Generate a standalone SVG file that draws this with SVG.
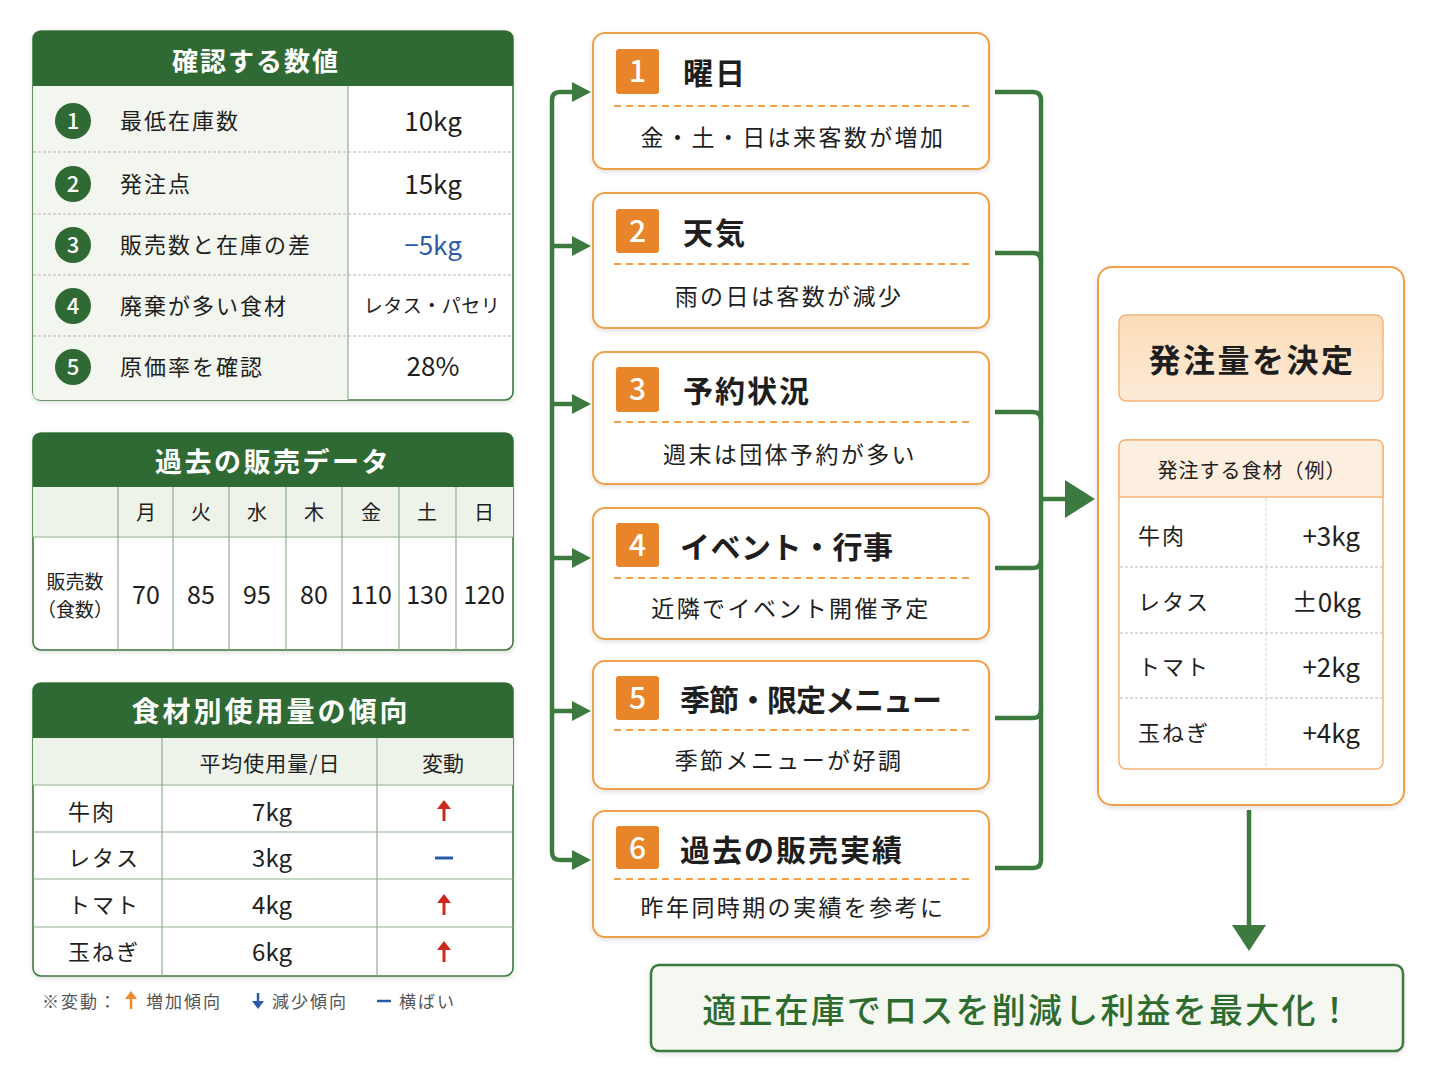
<svg xmlns="http://www.w3.org/2000/svg" width="1448" height="1086" viewBox="0 0 1448 1086">
<defs>
<style>
text{font-family:"Noto Sans CJK JP","Noto Sans",sans-serif;fill:#1e1e1e}
.hdr{fill:#ffffff;font-weight:700;text-anchor:middle}
.tbl{fill:#ffffff;stroke:#3d7a3f;stroke-width:1.6}
.hfill{fill:#2f6a34}
.dash{stroke:#b5b5b5;stroke-width:1;stroke-dasharray:3 2;fill:none}
.grid{stroke:#8fb08e;stroke-width:1.2;fill:none}
.lab{font-size:22px;letter-spacing:2px}
.val{font-size:26px;text-anchor:middle}
.box{fill:#ffffff;stroke:#f0a048;stroke-width:2}
.badge{fill:#e8852a}
.bnum{fill:#ffffff;font-size:30px;text-anchor:middle;font-weight:500}
.ttl{font-size:30px;font-weight:700;letter-spacing:2px}
.sub{font-size:23px;letter-spacing:2.4px;text-anchor:middle}
.odash{stroke:#f3a04c;stroke-width:2;stroke-dasharray:7 5;fill:none}
.conn{stroke:#3d7a3f;stroke-width:4.5;fill:none}
.head{fill:#3d7a3f}
.mid{text-anchor:middle}
.leg{font-size:17px;fill:#555;letter-spacing:2px}
</style>
<linearGradient id="og" x1="0" y1="0" x2="0" y2="1"><stop offset="0" stop-color="#fcdcb8"/><stop offset="1" stop-color="#fdebd7"/></linearGradient>
<linearGradient id="bg" x1="0" y1="0" x2="0" y2="1"><stop offset="0" stop-color="#f0953c"/><stop offset="1" stop-color="#e27f24"/></linearGradient>
<filter id="sh" x="-5%" y="-5%" width="110%" height="115%"><feDropShadow dx="0" dy="2" stdDeviation="2.5" flood-color="#000" flood-opacity="0.12"/></filter>
</defs>
<rect width="1448" height="1086" fill="#ffffff"/>

<!-- Table 1 -->
<g id="table-check">
<rect class="tbl" x="33" y="31" width="480" height="369" rx="8" filter="url(#sh)"/>
<path class="hfill" d="M33,39 Q33,31 41,31 H505 Q513,31 513,39 V86 H33 Z"/>
<path d="M33,86 H348 V400 H41 Q33,400 33,392 Z" fill="#f3f6ef"/>
<text class="hdr" x="256" y="71" font-size="26" letter-spacing="2">確認する数値</text>
<line class="grid" x1="348" y1="86" x2="348" y2="400"/>
<line class="dash" x1="33" y1="152" x2="513" y2="152"/>
<line class="dash" x1="33" y1="214" x2="513" y2="214"/>
<line class="dash" x1="33" y1="275" x2="513" y2="275"/>
<line class="dash" x1="33" y1="336" x2="513" y2="336"/>
<g fill="#2f6a34">
<circle cx="73" cy="121" r="18"/><circle cx="73" cy="184" r="18"/><circle cx="73" cy="245" r="18"/><circle cx="73" cy="306" r="18"/><circle cx="73" cy="367" r="18"/>
</g>
<g font-size="22" font-weight="500">
<text class="mid" x="73" y="129" style="fill:#fff">1</text>
<text class="mid" x="73" y="192" style="fill:#fff">2</text>
<text class="mid" x="73" y="253" style="fill:#fff">3</text>
<text class="mid" x="73" y="314" style="fill:#fff">4</text>
<text class="mid" x="73" y="375" style="fill:#fff">5</text>
</g>
<text class="lab" x="120" y="129">最低在庫数</text>
<text class="lab" x="120" y="192">発注点</text>
<text class="lab" x="120" y="253">販売数と在庫の差</text>
<text class="lab" x="120" y="314">廃棄が多い食材</text>
<text class="lab" x="120" y="375">原価率を確認</text>
<text class="val" x="433" y="131">10kg</text>
<text class="val" x="433" y="194">15kg</text>
<text class="val" x="433" y="255" style="fill:#2b5aa8">−5kg</text>
<text x="432" y="313" font-size="19" text-anchor="middle" letter-spacing="0.5">レタス・パセリ</text>
<text class="val" x="433" y="376">28%</text>
</g>

<!-- Table 2 -->
<g id="table-sales">
<rect class="tbl" x="33" y="433" width="480" height="217" rx="8" filter="url(#sh)"/>
<path class="hfill" d="M33,441 Q33,433 41,433 H505 Q513,433 513,441 V487 H33 Z"/>
<rect x="33" y="487" width="480" height="50" fill="#eef3ea"/>
<text class="hdr" x="273" y="472" font-size="27" letter-spacing="2.5">過去の販売データ</text>
<line class="grid" x1="33" y1="537" x2="513" y2="537"/>
<g class="grid">
<line x1="118" y1="487" x2="118" y2="650"/><line x1="173" y1="487" x2="173" y2="650"/><line x1="229" y1="487" x2="229" y2="650"/><line x1="286" y1="487" x2="286" y2="650"/><line x1="342" y1="487" x2="342" y2="650"/><line x1="399" y1="487" x2="399" y2="650"/><line x1="456" y1="487" x2="456" y2="650"/>
</g>
<g font-size="20" text-anchor="middle">
<text x="146" y="520">月</text><text x="201" y="520">火</text><text x="257" y="520">水</text><text x="314" y="520">木</text><text x="371" y="520">金</text><text x="427" y="520">土</text><text x="484" y="520">日</text>
</g>
<text x="75" y="589" font-size="19" text-anchor="middle">販売数</text>
<text x="75" y="617" font-size="19" text-anchor="middle">（食数）</text>
<g font-size="25" text-anchor="middle">
<text x="146" y="604">70</text><text x="201" y="604">85</text><text x="257" y="604">95</text><text x="314" y="604">80</text><text x="371" y="604">110</text><text x="427" y="604">130</text><text x="484" y="604">120</text>
</g>
</g>

<!-- Table 3 -->
<g id="table-usage">
<rect class="tbl" x="33" y="683" width="480" height="293" rx="8" filter="url(#sh)"/>
<path class="hfill" d="M33,691 Q33,683 41,683 H505 Q513,683 513,691 V738 H33 Z"/>
<rect x="33" y="738" width="480" height="47" fill="#eef3ea"/>
<text class="hdr" x="271" y="722" font-size="28" letter-spacing="3">食材別使用量の傾向</text>
<g class="grid">
<line x1="33" y1="785" x2="513" y2="785"/><line x1="33" y1="832" x2="513" y2="832"/><line x1="33" y1="879" x2="513" y2="879"/><line x1="33" y1="927" x2="513" y2="927"/>
<line x1="162" y1="738" x2="162" y2="976"/><line x1="377" y1="738" x2="377" y2="976"/>
</g>
<text x="270" y="771" font-size="21" text-anchor="middle" letter-spacing="1">平均使用量/日</text>
<text x="443" y="771" font-size="21" text-anchor="middle">変動</text>
<g font-size="22" letter-spacing="2">
<text x="68" y="820">牛肉</text><text x="68" y="866">レタス</text><text x="68" y="913">トマト</text><text x="68" y="960">玉ねぎ</text>
</g>
<g font-size="24" text-anchor="middle">
<text x="272" y="821">7kg</text><text x="272" y="867">3kg</text><text x="272" y="914">4kg</text><text x="272" y="961">6kg</text>
</g>
<g stroke="#cc2a1e" stroke-width="3" fill="none">
<line x1="444" y1="821" x2="444" y2="807"/><line x1="444" y1="915" x2="444" y2="901"/><line x1="444" y1="962" x2="444" y2="948"/>
</g>
<g fill="#cc2a1e">
<polygon points="437,809 444,800 451,809"/><polygon points="437,903 444,894 451,903"/><polygon points="437,950 444,941 451,950"/>
</g>
<line x1="435" y1="858" x2="453" y2="858" stroke="#2b5aa8" stroke-width="3"/>
</g>

<!-- Legend -->
<g id="legend">
<text class="leg" x="42" y="1008">※変動：</text>
<line x1="131" y1="1009" x2="131" y2="997" stroke="#ef8a2a" stroke-width="2.5"/>
<polygon points="125,999 131,991 137,999" fill="#ef8a2a"/>
<text class="leg" x="146" y="1008">増加傾向</text>
<line x1="258" y1="993" x2="258" y2="1003" stroke="#2b5aa8" stroke-width="2.5"/>
<polygon points="252,1001 258,1009 264,1001" fill="#2b5aa8"/>
<text class="leg" x="272" y="1008">減少傾向</text>
<line x1="377" y1="1001" x2="391" y2="1001" stroke="#2b5aa8" stroke-width="2.5"/>
<text class="leg" x="399" y="1008">横ばい</text>
</g>

<!-- Connectors -->
<g id="connectors">
<path class="conn" d="M578,92 H560 Q552,92 552,100 V852 Q552,860 560,860 H578"/>
<path class="conn" d="M552,246 H578 M552,404 H578 M552,558 H578 M552,711 H578"/>
<g class="head">
<polygon points="572,82 591,92 572,102"/>
<polygon points="572,236 591,246 572,256"/>
<polygon points="572,394 591,404 572,414"/>
<polygon points="572,548 591,558 572,568"/>
<polygon points="572,701 591,711 572,721"/>
<polygon points="572,850 591,860 572,870"/>
</g>
<path class="conn" d="M995,92 H1033 Q1041,92 1041,100 V860 Q1041,868 1033,868 H995"/>
<path class="conn" d="M995,253 H1033 Q1041,253 1041,261"/>
<path class="conn" d="M995,412 H1033 Q1041,412 1041,420"/>
<path class="conn" d="M995,568 H1033 Q1041,568 1041,560"/>
<path class="conn" d="M995,718 H1033 Q1041,718 1041,710"/>
<path class="conn" d="M1041,499 H1068"/>
<polygon class="head" points="1065,480 1095,499 1065,518"/>
<path class="conn" d="M1249,810 V928" stroke-width="5"/>
<polygon class="head" points="1232,925 1266,925 1249,951"/>
</g>

<!-- Flow boxes -->
<g id="factor-1">
<rect class="box" x="593" y="33" width="396" height="136" rx="12" filter="url(#sh)"/>
<rect class="badge" x="616" y="49" width="43" height="45" rx="3" fill="url(#bg)"/>
<text class="bnum" x="637.5" y="82">1</text>
<text class="ttl" x="683" y="84">曜日</text>
<line class="odash" x1="614" y1="106" x2="970" y2="106"/>
<text class="sub" x="793" y="146">金・土・日は来客数が増加</text>
</g>
<g id="factor-2">
<rect class="box" x="593" y="193" width="396" height="135" rx="12" filter="url(#sh)"/>
<rect class="badge" x="616" y="209" width="43" height="44" rx="3" fill="url(#bg)"/>
<text class="bnum" x="637.5" y="242">2</text>
<text class="ttl" x="683" y="244">天気</text>
<line class="odash" x1="614" y1="264" x2="970" y2="264"/>
<text class="sub" x="789" y="305">雨の日は客数が減少</text>
</g>
<g id="factor-3">
<rect class="box" x="593" y="352" width="396" height="132" rx="12" filter="url(#sh)"/>
<rect class="badge" x="616" y="367" width="43" height="45" rx="3" fill="url(#bg)"/>
<text class="bnum" x="637.5" y="400">3</text>
<text class="ttl" x="683" y="402">予約状況</text>
<line class="odash" x1="614" y1="422" x2="970" y2="422"/>
<text class="sub" x="790" y="463">週末は団体予約が多い</text>
</g>
<g id="factor-4">
<rect class="box" x="593" y="508" width="396" height="131" rx="12" filter="url(#sh)"/>
<rect class="badge" x="616" y="523" width="43" height="44" rx="3" fill="url(#bg)"/>
<text class="bnum" x="637.5" y="556">4</text>
<text class="ttl" x="680" y="558" style="letter-spacing:0.5px">イベント・行事</text>
<line class="odash" x1="614" y1="578" x2="970" y2="578"/>
<text class="sub" x="791" y="617">近隣でイベント開催予定</text>
</g>
<g id="factor-5">
<rect class="box" x="593" y="661" width="396" height="128" rx="12" filter="url(#sh)"/>
<rect class="badge" x="616" y="676" width="43" height="44" rx="3" fill="url(#bg)"/>
<text class="bnum" x="637.5" y="709">5</text>
<text class="ttl" x="680" y="711" style="letter-spacing:-1px">季節・限定メニュー</text>
<line class="odash" x1="614" y1="730" x2="970" y2="730"/>
<text class="sub" x="789" y="769">季節メニューが好調</text>
</g>
<g id="factor-6">
<rect class="box" x="593" y="811" width="396" height="126" rx="12" filter="url(#sh)"/>
<rect class="badge" x="616" y="826" width="43" height="43" rx="3" fill="url(#bg)"/>
<text class="bnum" x="637.5" y="859">6</text>
<text class="ttl" x="680" y="861">過去の販売実績</text>
<line class="odash" x1="614" y1="879" x2="970" y2="879"/>
<text class="sub" x="793" y="916">昨年同時期の実績を参考に</text>
</g>

<!-- Decision panel -->
<g id="decision">
<rect class="box" x="1098" y="267" width="306" height="538" rx="14" filter="url(#sh)"/>
<rect x="1119" y="315" width="264" height="86" rx="7" fill="url(#og)" stroke="#f5b57a" stroke-width="1.5"/>
<text x="1252" y="372" font-size="32" font-weight="700" text-anchor="middle" letter-spacing="2.5">発注量を決定</text>
<rect x="1119" y="440" width="264" height="329" rx="7" fill="#ffffff" stroke="#f5b57a" stroke-width="1.5"/>
<path d="M1119,447 Q1119,440 1126,440 H1376 Q1383,440 1383,447 V497 H1119 Z" fill="#fdefdf" stroke="#f5b57a" stroke-width="1.5"/>
<text x="1252" y="478" font-size="20" text-anchor="middle" letter-spacing="1">発注する食材（例）</text>
<line class="dash" x1="1266" y1="498" x2="1266" y2="768" style="stroke:#d5d5d5"/>
<line class="dash" x1="1120" y1="567" x2="1382" y2="567"/>
<line class="dash" x1="1120" y1="633" x2="1382" y2="633"/>
<line class="dash" x1="1120" y1="698" x2="1382" y2="698"/>
<g font-size="22" letter-spacing="2">
<text x="1138" y="544">牛肉</text><text x="1138" y="610">レタス</text><text x="1138" y="675">トマト</text><text x="1138" y="741">玉ねぎ</text>
</g>
<g font-size="26" text-anchor="end">
<text x="1360" y="546">+3kg</text><text x="1361" y="612">±0kg</text><text x="1360" y="677">+2kg</text><text x="1360" y="743">+4kg</text>
</g>
</g>

<!-- Result -->
<g id="result">
<rect x="651" y="965" width="752" height="86" rx="8" fill="#f4f8f1" stroke="#3d7a3f" stroke-width="2.5" filter="url(#sh)"/>
<text x="1028" y="1023" font-size="34" font-weight="500" text-anchor="middle" letter-spacing="2.2" style="fill:#2e6b2e">適正在庫でロスを削減し利益を最大化！</text>
</g>
</svg>
